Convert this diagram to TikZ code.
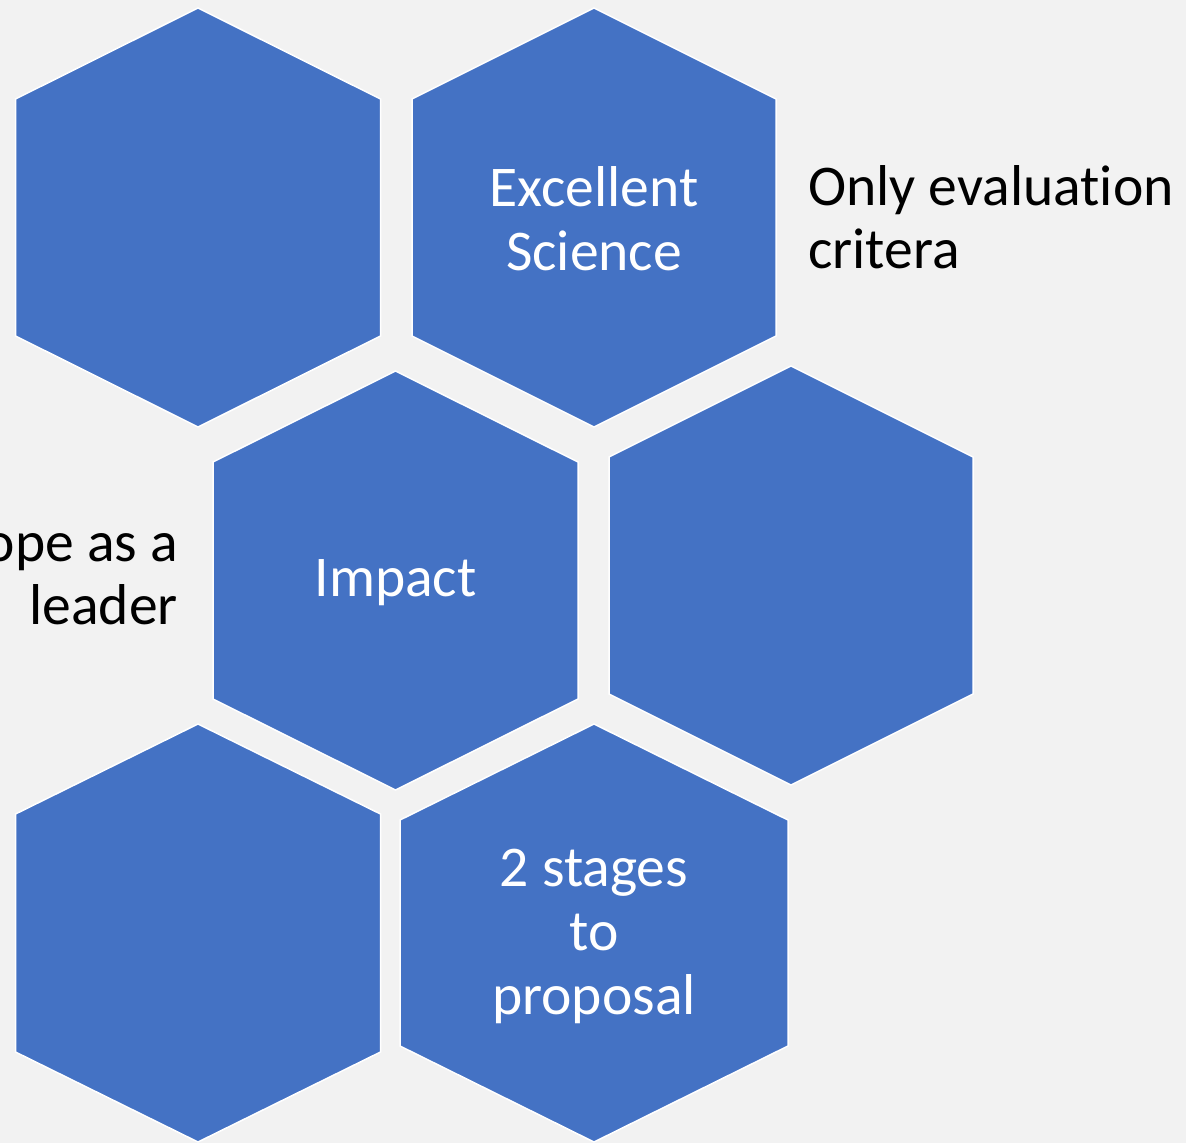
\documentclass[tikz,border=0pt]{standalone}
\usepackage{fontspec}
\setmainfont{Carlito}[Ligatures=NoCommon]
\usetikzlibrary{positioning}
\definecolor{hexfill}{HTML}{4472C4}
\definecolor{pagebg}{HTML}{F2F2F2}

% hexagon: centre x, centre y, half width, half height, half side edge
\newcommand{\hexcell}[5]{%
  \draw[hex] (#1,#2-#4) -- (#1+#3,#2-#5) -- (#1+#3,#2+#5) -- (#1,#2+#4)
    -- (#1-#3,#2+#5) -- (#1-#3,#2-#5) -- cycle;}

\begin{document}
\begin{tikzpicture}[x=1pt,y=-1pt,
  hex/.style={fill=hexfill,draw=white,line width=1.5pt,line join=miter},
  inlabel/.style={text=white,align=center,inner sep=0pt,font=\fontsize{57.6}{64}\selectfont},
  outlabel/.style={text=black,inner sep=0pt,font=\fontsize{57.6}{63}\selectfont}
]
\useasboundingbox (0,0) rectangle (1186,1143);
\clip (0,0) rectangle (1186,1143);
\fill[pagebg] (0,0) rectangle (1186,1143);

\hexcell{198}{217.5}{182.5}{209.5}{118.5}
\hexcell{594}{217.5}{182}{209.5}{118.5}
\hexcell{395.5}{580.5}{182.5}{209.5}{118.5}
\hexcell{791}{575.5}{182}{209.5}{118.5}
\hexcell{198}{933}{182.5}{209}{119}
\hexcell{594}{933}{194}{209}{113}

\node[inlabel] (science) at (594,219) {Excellent\\Science};
\node[inlabel] (impact) at (395.5,583) {Impact};
\node[inlabel] (stages) at (594,936) {2 stages\\to\\proposal};

\node[outlabel,align=left,anchor=west] (criteria) at (808,217) {Only evaluation\\critera};
\node[outlabel,align=right,anchor=east] (leader) at (178,579) {ope as a\\leader};
\end{tikzpicture}
\end{document}
